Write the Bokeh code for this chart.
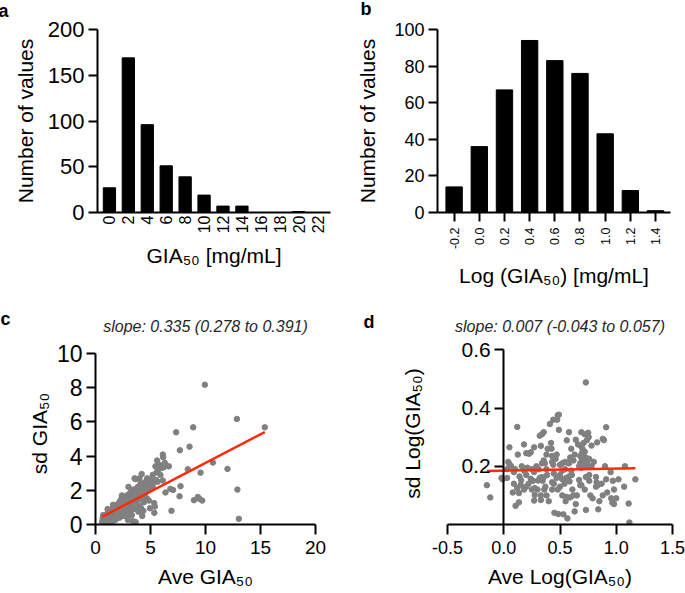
from math import pi
from bokeh.plotting import figure
from bokeh.layouts import column, row
from bokeh.models import Range1d, FixedTicker, PrintfTickFormatter, LinearAxis, Label
from bokeh.embed import file_html
from bokeh.resources import INLINE

FONT = "Liberation Sans"

# ---------------- data ----------------
# panel a: histogram of GIA50
gia_bins = [0, 2, 4, 6, 8, 10, 12, 14, 16, 18, 20, 22]
gia_counts = [27, 169, 96, 51, 39, 19, 7, 7, 0, 0, 1, 0]

# panel b: histogram of log(GIA50)
log_bins = [-0.2, 0.0, 0.2, 0.4, 0.6, 0.8, 1.0, 1.2, 1.4]
log_counts = [14, 36, 67, 94, 83, 76, 43, 12, 1]

# panel c: sd vs average GIA50
ave_gia = [0.6, 0.65, 0.75, 0.8, 0.85, 0.9, 0.95, 1.0, 1.05, 1.1, 1.15, 1.2, 1.2, 1.25, 1.3,
           1.35, 1.4, 1.45, 1.5, 1.5, 1.55, 1.6, 1.65, 1.7, 1.7, 1.75, 1.8, 1.85, 1.9, 1.9,
           1.95, 2.0, 2.05, 2.1, 2.1, 2.15, 2.2, 2.2, 2.25, 2.3, 2.3, 2.35, 2.4, 2.45, 2.5,
           2.5, 2.55, 2.6, 2.6, 2.65, 2.7, 2.75, 2.8, 2.8, 2.85, 2.9, 2.94, 3.0, 3.0, 3.05,
           3.1, 3.15, 3.2, 3.2, 3.25, 3.3, 3.35, 3.4, 3.4, 3.45, 3.5, 3.55, 3.6, 3.65, 3.65,
           3.7, 3.75, 3.8, 3.85, 3.9, 3.9, 3.95, 4.0, 4.05, 4.1, 4.15, 4.2, 4.25, 4.25, 4.3,
           4.35, 4.4, 4.45, 4.5, 4.6, 4.65, 4.7, 4.8, 4.85, 4.9, 5.0, 5.05, 5.1, 5.2, 5.3,
           5.33, 5.35, 5.4, 5.45, 5.5, 5.55, 5.6, 5.7, 5.8, 5.85, 5.9, 6.0, 6.12, 6.15, 6.12,
           6.2, 6.36, 6.67, 6.8, 6.91, 7.05, 7.33, 7.64, 7.67, 7.73, 8.39, 8.55, 8.88, 8.95,
           9.3, 9.45, 9.55, 9.7, 9.94, 10.67, 12.0, 12.85, 12.9, 13.03, 15.39,
           0.7, 1.1, 1.6, 2.4, 3.0, 3.5, 4.0, 4.3, 4.7, 4.95, 5.2, 5.65, 6.3, 4.75, 3.3]
sd_gia = [0.15, 0.35, 0.1, 0.3, 0.5, 0.2, 0.4, 0.6, 0.25, 0.45, 0.7, 0.1, 0.35, 0.55, 0.8,
          0.3, 0.6, 0.45, 0.2, 0.9, 0.65, 0.4, 0.75, 0.55, 1.0, 0.25, 0.8, 0.5, 1.1, 0.65,
          0.35, 0.9, 1.2, 0.55, 0.75, 1.0, 0.4, 1.35, 0.85, 1.1, 0.6, 1.5, 0.95, 1.25, 0.7,
          1.4, 1.05, 0.5, 1.6, 1.2, 0.9, 1.45, 1.1, 0.65, 1.7, 1.3, 0.27, 2.2, 1.0, 1.55,
          1.25, 1.85, 0.85, 1.6, 1.4, 2.0, 1.15, 0.2, 1.75, 1.5, 2.05, 2.7, 1.3, 0.14, 2.65,
          1.9, 0.95, 1.65, 2.2, 0.75, 1.45, 2.0, 1.1, 1.8, 2.4, 0.95, 2.95, 0.5, 1.55, 2.1,
          0.8, 1.3, 2.45, 1.7, 2.3, 2.55, 1.5, 2.0, 1.4, 2.6, 2.5, 2.3, 2.6, 2.2, 2.45,
          1.25, 0.68, 1.05, 3.4, 2.6, 3.05, 3.74, 3.2, 3.5, 3.4, 2.9, 3.3, 4.09, 3.93, 2.57,
          3.35, 1.87, 3.4, 2.08, 0.8, 2.02, 5.39, 1.65, 4.34, 2.24, 3.23, 4.55, 5.68, 1.42,
          1.61, 1.5, 3.03, 1.4, 8.17, 3.62, 3.25, 6.17, 2.04, 0.33, 5.68,
          0.55, 0.9, 1.15, 1.7, 0.5, 0.9, 2.7, 1.9, 2.7, 0.95, 2.9, 2.5, 3.6, 2.2, 0.55]
slope_c = 0.335
intercept_c = 0.25

# panel d: sd vs average log(GIA50)
ave_log = [-0.15, -0.12, -0.01, -0.02, 0.04, 0.05, 0.05, 0.065, 0.12, 0.125, 0.09, 0.08,
           0.135, 0.14, 0.155, 0.15, 0.135, 0.105, 0.185, 0.20, 0.24, 0.225, 0.24, 0.27,
           0.21, 0.275, 0.275, 0.27, 0.33, 0.33, 0.305, 0.32, 0.335, 0.355, 0.345, 0.32,
           0.34, 0.355, 0.41, 0.44, 0.48, 0.42, 0.425, 0.43, 0.355, 0.365, 0.43, 0.44, 0.38,
           0.385, 0.445, 0.43, 0.445, 0.43, 0.45,
           0.73, 0.49, 0.475, 0.49, 0.91, 0.58, 0.69, 0.72, 0.75, 0.755, 0.74, 0.64, 0.66,
           0.685, 0.70, 0.695, 0.68, 0.695, 0.68, 0.67, 0.69, 0.73, 0.72, 0.56, 0.78, 0.83,
           0.88, 0.89, 0.52, 0.545, 0.565, 0.58, 0.50, 0.52, 0.545, 0.50, 0.60, 0.605, 0.58,
           0.585, 0.555, 0.52, 0.54,
           0.67, 0.68, 0.69, 0.73, 0.76, 0.82, 0.825, 0.91, 0.97, 1.02, 1.077, 1.17, 1.07,
           0.82, 0.835, 0.87, 0.88, 0.52, 0.555, 0.59, 0.55, 0.65, 0.955, 0.965, 0.98, 1.11,
           1.117, 0.485, 0.53, 0.566, 0.63, 0.73, 0.84,
           0.29, 0.31, 0.27, 0.25, 0.26, 0.22, 0.20, 0.18, 0.25, 0.30, 0.36, 0.38, 0.40,
           0.37, 0.47, 0.50, 0.48, 0.46, 0.47, 0.62, 0.63, 0.60, 0.59, 0.61, 0.62, 0.64,
           0.77, 0.79, 0.72, 0.76, 0.78, 0.80, 0.74, 0.76, 0.73, 0.72, 0.71, 0.10, 0.09,
           0.16, 0.12, 0.03, 0.03, 0.90, 0.95, 0.98, 1.00, 0.92, 0.85, 0.38, 0.39, 0.33,
           0.34, 0.20, 0.18]
sd_log = [0.135, 0.093, 0.155, 0.16, 0.215, 0.265, 0.208, 0.20, 0.335, 0.24, 0.14, 0.11,
          0.108, 0.165, 0.152, 0.136, 0.076, 0.064, 0.183, 0.17, 0.157, 0.243, 0.248, 0.265,
          0.195, 0.125, 0.101, 0.082, 0.084, 0.10, 0.151, 0.16, 0.162, 0.162, 0.15, 0.305,
          0.31, 0.317, 0.345, 0.36, 0.375, 0.28, 0.26, 0.235, 0.22, 0.21, 0.215, 0.205, 0.19,
          0.17, 0.175, 0.145, 0.14, 0.12, 0.04,
          0.488, 0.377, 0.36, 0.325, 0.334, 0.317, 0.317, 0.31, 0.315, 0.30, 0.29, 0.291,
          0.275, 0.27, 0.26, 0.245, 0.235, 0.22, 0.21, 0.20, 0.195, 0.198, 0.21, 0.289,
          0.271, 0.282, 0.294, 0.29, 0.21, 0.215, 0.212, 0.21, 0.205, 0.185, 0.19, 0.17,
          0.185, 0.17, 0.165, 0.148, 0.16, 0.155, 0.14,
          0.153, 0.135, 0.135, 0.163, 0.15, 0.163, 0.145, 0.155, 0.15, 0.155, 0.20, 0.155,
          0.13, 0.13, 0.135, 0.14, 0.10, 0.10, 0.095, 0.093, 0.08, 0.10, 0.09, 0.075, 0.07,
          0.072, 0.007, 0.036, 0.035, 0.021, 0.045, 0.05, 0.052,
          0.20, 0.19, 0.18, 0.19, 0.15, 0.14, 0.13, 0.12, 0.12, 0.12, 0.12, 0.10, 0.08,
          0.13, 0.16, 0.13, 0.12, 0.225, 0.24, 0.22, 0.24, 0.26, 0.23, 0.12, 0.10, 0.07,
          0.10, 0.09, 0.12, 0.17, 0.20, 0.215, 0.21, 0.225, 0.23, 0.25, 0.28, 0.19, 0.18,
          0.20, 0.125, 0.19, 0.16, 0.20, 0.18, 0.12, 0.09, 0.11, 0.08, 0.24, 0.26, 0.27,
          0.21, 0.245, 0.275]
slope_d = 0.007
intercept_d = 0.185

GRAY = "#808080"
RED = "#ff2a0a"


def style(p, xtick_size, ytick_size, xtick_out=9, xstand=5):
    p.outline_line_color = None
    p.grid.visible = False
    p.background_fill_color = "white"
    p.border_fill_color = "white"
    for ax in p.axis:
        ax.axis_line_width = 2
        ax.axis_line_color = "black"
        ax.major_tick_line_width = 2
        ax.major_tick_line_color = "black"
        ax.minor_tick_line_color = None
        ax.major_tick_in = 0
        ax.major_tick_out = 9
        ax.major_label_standoff = 4
        ax.axis_label_text_font = FONT
        ax.axis_label_text_font_style = "normal"
        ax.axis_label_text_font_size = "21px"
        ax.axis_label_text_color = "black"
        ax.major_label_text_font = FONT
        ax.major_label_text_color = "black"
    for ax in p.xaxis:
        ax.major_label_text_font_size = xtick_size
        ax.major_tick_out = xtick_out
        ax.major_label_standoff = xstand
    for ax in p.yaxis:
        ax.major_label_text_font_size = ytick_size


def slope_title(p, txt, standoff):
    p.title.text = txt
    p.title.align = "center"
    p.title.standoff = standoff
    p.title.text_font = FONT
    p.title.text_font_size = "16px"
    p.title.text_font_style = "italic"
    p.title.text_color = "#262626"


def add_letter(p, txt, sx, sy):
    # panel letter, laid out in the left side panel (not clipped by the frame)
    p.add_layout(Label(text=txt, x=sx, y=sy, x_units="screen", y_units="screen",
                       text_font=FONT, text_font_size="18px", text_font_style="bold",
                       text_baseline="alphabetic", text_color="black"), "left")


# ---------------- panel a ----------------
pa = figure(width=340, height=298, x_range=Range1d(-1.26, 23.36), y_range=Range1d(0, 200),
            output_backend="svg", toolbar_location=None,
            min_border_left=95, min_border_right=10, min_border_top=29, min_border_bottom=86)
pa.title.visible = False
pa.vbar(x=gia_bins, top=gia_counts, width=1.3, color="black")
pa.xaxis.ticker = FixedTicker(ticks=gia_bins)
pa.yaxis.ticker = FixedTicker(ticks=[0, 50, 100, 150, 200])
pa.xaxis.major_label_orientation = pi / 2
pa.xaxis.axis_label = "GIA\u2085\u2080 [mg/mL]"
pa.yaxis.axis_label = "Number of values"
style(pa, "16px", "22px", xtick_out=0, xstand=3)
pa.xaxis.axis_label_standoff = 8
pa.yaxis.axis_label_standoff = 8
add_letter(pa, "a", -2, 202)

# ---------------- panel b ----------------
pb = figure(width=345, height=298, x_range=Range1d(-0.332, 1.519), y_range=Range1d(0, 100),
            output_backend="svg", toolbar_location=None,
            min_border_left=97, min_border_right=15, min_border_top=29, min_border_bottom=86)
pb.title.visible = False
pb.vbar(x=log_bins, top=log_counts, width=0.13, color="black")
pb.xaxis.ticker = FixedTicker(ticks=log_bins)
pb.xaxis.formatter = PrintfTickFormatter(format="%.1f")
pb.yaxis.ticker = FixedTicker(ticks=[0, 20, 40, 60, 80, 100])
pb.xaxis.major_label_orientation = pi / 2
pb.xaxis.axis_label = "Log (GIA\u2085\u2080) [mg/mL]"
pb.yaxis.axis_label = "Number of values"
style(pb, "12.5px", "18px", xtick_out=9, xstand=6)
pb.xaxis.axis_label_standoff = 12
pb.yaxis.axis_label_standoff = 12
add_letter(pb, "b", 18, 204)

# ---------------- panel c ----------------
# frame reaches a little above 10 so both bottom panels share the same frame top
pc = figure(width=340, height=295, x_range=Range1d(0, 20), y_range=Range1d(0, 10.64),
            output_backend="svg", toolbar_location=None,
            min_border_left=95, min_border_right=25, min_border_top=44, min_border_bottom=69)
pc.scatter(ave_gia, sd_gia, size=5.5, color=GRAY)
xc = [min(ave_gia), max(ave_gia)]
pc.line(xc, [slope_c * v + intercept_c for v in xc], line_color=RED, line_width=2.5)
pc.xaxis.ticker = FixedTicker(ticks=[0, 5, 10, 15, 20])
pc.yaxis.ticker = FixedTicker(ticks=[0, 2, 4, 6, 8, 10])
pc.yaxis.bounds = (0, 10)
pc.xaxis.axis_label = "Ave GIA\u2085\u2080"
pc.yaxis.axis_label = "sd GIA\u2085\u2080"
style(pc, "19px", "23px", xtick_out=10, xstand=6)
pc.xaxis.axis_label_standoff = 8
pc.yaxis.axis_label_standoff = 3
slope_title(pc, "slope: 0.335 (0.278 to 0.391)", 16)
add_letter(pc, "c", -14, 206)

# ---------------- panel d ----------------
pd = figure(width=345, height=295, x_range=Range1d(-0.5, 1.5), y_range=Range1d(0, 0.625),
            output_backend="svg", toolbar_location=None, y_axis_location=None,
            min_border_left=107, min_border_right=13, min_border_top=44, min_border_bottom=69)
pd.scatter(ave_log, sd_log, size=5.5, color=GRAY)
xd = [min(ave_log), max(ave_log)]
pd.line(xd, [slope_d * v + intercept_d for v in xd], line_color=RED, line_width=2.5)
pd.xaxis.ticker = FixedTicker(ticks=[-0.5, 0.0, 0.5, 1.0, 1.5])
pd.xaxis.formatter = PrintfTickFormatter(format="%.1f")
pd.xaxis.axis_label = "Ave Log(GIA\u2085\u2080)"
# y-axis drawn at x = 0 (Prism style); its title sits at the left of the frame
label_axis = LinearAxis(axis_label="sd Log(GIA\u2085\u2080)", ticker=FixedTicker(ticks=[]))
pd.add_layout(label_axis, "left")
yaxis_d = LinearAxis(fixed_location=0, ticker=FixedTicker(ticks=[0.2, 0.4, 0.6]),
                     formatter=PrintfTickFormatter(format="%.1f"), bounds=(0, 0.6))
pd.add_layout(yaxis_d, "left")
style(pd, "18px", "21px", xtick_out=10, xstand=6)
pd.xaxis.axis_label_standoff = 8
label_axis.axis_line_color = None
label_axis.major_tick_out = 0
label_axis.major_label_standoff = 0
label_axis.axis_label_standoff = 24
slope_title(pd, "slope: 0.007 (-0.043 to 0.057)", 16)
add_letter(pd, "d", -23, 203)

layout = column(row(pa, pb), row(pc, pd))
open("out.html", "w").write(file_html(layout, INLINE))
